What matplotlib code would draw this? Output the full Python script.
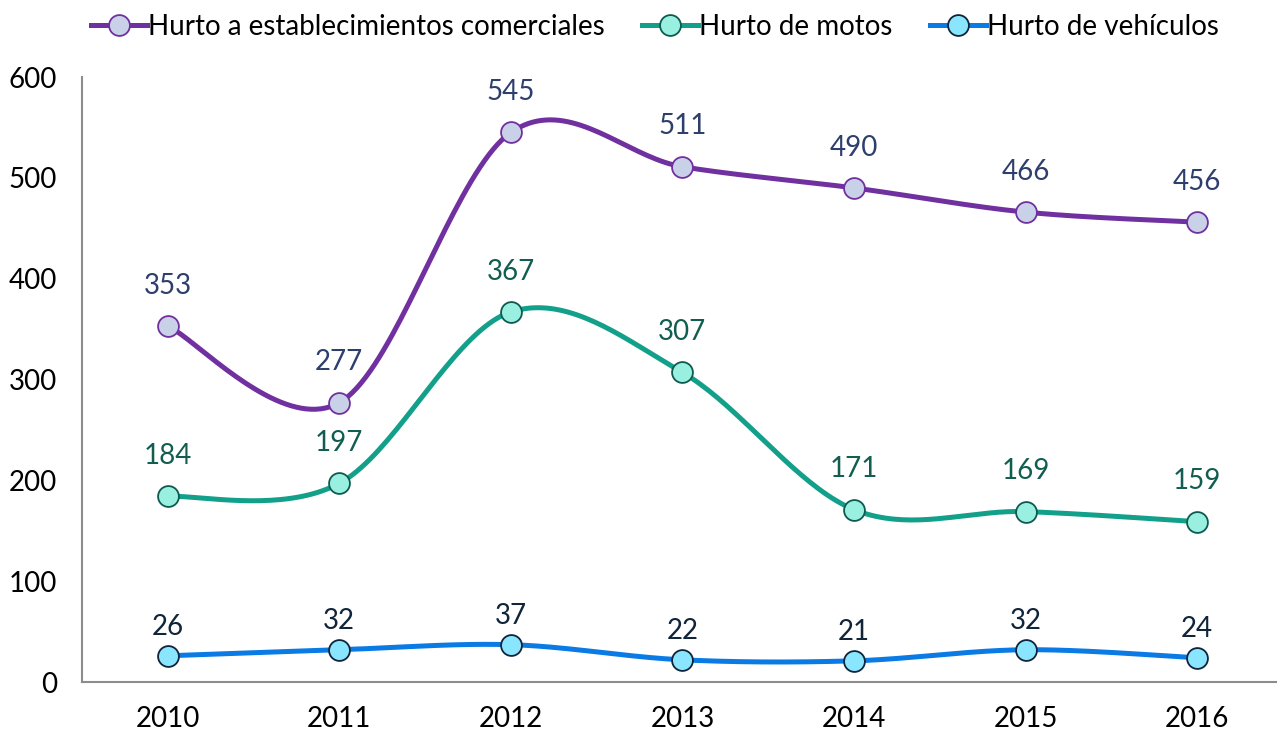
import numpy as np
import matplotlib
matplotlib.use('Agg')
from matplotlib import pyplot as plt

years = ['2010', '2011', '2012', '2013', '2014', '2015', '2016']
comerciales = [353, 277, 545, 511, 490, 466, 456]
motos = [184, 197, 367, 307, 171, 169, 159]
vehiculos = [26, 32, 37, 22, 21, 32, 24]
yticks = [0, 100, 200, 300, 400, 500, 600]

plt.rcParams['font.family'] = ['Lato', 'DejaVu Sans']


def smooth(xs, ys, n=40):
    # bezier smoothing between points, like office "smoothed line"
    xs = np.asarray(xs, float)
    ys = np.asarray(ys, float)
    px = np.concatenate([[xs[0]], xs, [xs[-1]]])
    py = np.concatenate([[ys[0]], ys, [ys[-1]]])
    ox, oy = [], []
    t = np.linspace(0, 1, n)
    for i in range(1, len(xs)):
        p0 = np.array([px[i], py[i]])
        p3 = np.array([px[i + 1], py[i + 1]])
        p1 = p0 + (np.array([px[i + 1], py[i + 1]]) - np.array([px[i - 1], py[i - 1]])) / 6
        p2 = p3 - (np.array([px[i + 2], py[i + 2]]) - np.array([px[i], py[i]])) / 6
        b = ((1 - t) ** 3)[:, None] * p0 + (3 * (1 - t) ** 2 * t)[:, None] * p1 \
            + (3 * (1 - t) * t ** 2)[:, None] * p2 + (t ** 3)[:, None] * p3
        ox.extend(b[:, 0])
        oy.extend(b[:, 1])
    return ox, oy


fig = plt.figure(figsize=(12.77, 7.32), dpi=100)
ax = fig.add_axes([0.0642, 0.0683, 0.9358, 0.8265])

x = np.arange(len(years))
series = [
    ('Hurto a establecimientos comerciales', comerciales, '#7030A0', '#C9D1E8', '#7030A0', '#2E3F6E', 29),
    ('Hurto de motos', motos, '#13A08A', '#99F0E1', '#0F5A4E', '#115E50', 29),
    ('Hurto de vehículos', vehiculos, '#0A7AE4', '#8AE5FF', '#10243A', '#10243A', 21),
]

handles = []
for name, vals, lc, fc, ec, tc, off in series:
    sx, sy = smooth(x, vals)
    ax.plot(sx, sy, color=lc, lw=3.6, solid_capstyle='round', zorder=2)
    ax.plot(x, vals, ls='none', marker='o', ms=15, mfc=fc, mec=ec, mew=1.3, zorder=3)
    h, = ax.plot([], [], color=lc, lw=3.6, marker='o', ms=15, mfc=fc, mec=ec, mew=1.3)
    handles.append(h)
    for xi, v in zip(x, vals):
        ax.annotate(str(v), (xi, v), xytext=(0, off), textcoords='offset points',
                    ha='center', va='center', fontsize=20, color=tc)

ax.set_xlim(-0.5, 6.466)
ax.set_ylim(0, 600)
ax.set_xticks(x)
ax.set_xticklabels(years)
ax.set_yticks(yticks)
ax.tick_params(length=0, labelsize=20, colors='black')
ax.tick_params(axis='y', pad=18)
ax.tick_params(axis='x', pad=17)
for s in ['top', 'right']:
    ax.spines[s].set_visible(False)
for s in ['left', 'bottom']:
    ax.spines[s].set_color('#8C8C8C')
    ax.spines[s].set_linewidth(1.5)

fig.legend(handles, [s[0] for s in series], loc='upper center', bbox_to_anchor=(0.513, 1.015),
           ncol=3, frameon=False, fontsize=20, handlelength=2.0, handletextpad=0.05,
           columnspacing=1.35)

fig.savefig('out.png', dpi=100)
